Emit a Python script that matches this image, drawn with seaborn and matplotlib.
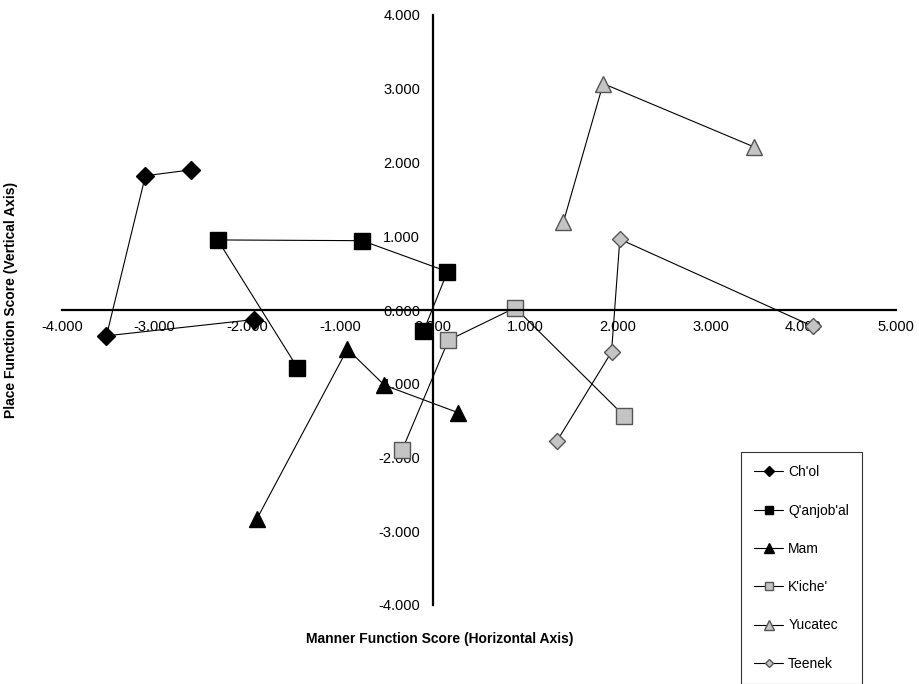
import pandas as pd
import matplotlib
matplotlib.use('Agg')
import matplotlib.pyplot as plt
import seaborn as sns

sns.set_style('white')
plt.rcParams['font.family'] = ['Liberation Sans', 'DejaVu Sans']
plt.rcParams['text.color'] = 'black'
plt.rcParams['axes.labelcolor'] = 'black'

# values (manner score, place score), in line order
chol_x = [-1.93, -3.52, -3.10, -2.61]
chol_y = [-0.13, -0.35, 1.82, 1.90]
qanjobal_x = [-1.46, -2.32, -0.76, 0.16, -0.10]
qanjobal_y = [-0.78, 0.95, 0.94, 0.52, -0.29]
mam_x = [-1.90, -0.92, -0.52, 0.27]
mam_y = [-2.84, -0.53, -1.02, -1.39]
kiche_x = [-0.33, 0.17, 0.89, 2.07]
kiche_y = [-1.90, -0.41, 0.03, -1.44]
yucatec_x = [1.41, 1.84, 3.47]
yucatec_y = [1.19, 3.07, 2.21]
teenek_x = [1.34, 1.93, 2.02, 4.10]
teenek_y = [-1.78, -0.57, 0.96, -0.22]

names = ["Ch'ol", "Q'anjob'al", "Mam", "K'iche'", "Yucatec", "Teenek"]
xs = [chol_x, qanjobal_x, mam_x, kiche_x, yucatec_x, teenek_x]
ys = [chol_y, qanjobal_y, mam_y, kiche_y, yucatec_y, teenek_y]

styles = {
    "Ch'ol": dict(marker='D', markersize=9, markerfacecolor='black', markeredgecolor='black'),
    "Q'anjob'al": dict(marker='s', markersize=11, markerfacecolor='black', markeredgecolor='black'),
    "Mam": dict(marker='^', markersize=12, markerfacecolor='black', markeredgecolor='black'),
    "K'iche'": dict(marker='s', markersize=11, markerfacecolor='#c4c4c4', markeredgecolor='#555555'),
    "Yucatec": dict(marker='^', markersize=12, markerfacecolor='#c4c4c4', markeredgecolor='#555555'),
    "Teenek": dict(marker='D', markersize=8, markerfacecolor='#c4c4c4', markeredgecolor='#555555'),
}

fig = plt.figure(figsize=(9.19, 6.84), dpi=100)
ax = fig.add_axes([62 / 919, 1 - 605 / 684, 834 / 919, 590 / 684])

for name, x, y in zip(names, xs, ys):
    df = pd.DataFrame({'x': x, 'y': y})
    sns.lineplot(data=df, x='x', y='y', sort=False, estimator=None, ax=ax,
                 color='black', linewidth=0.8, markeredgewidth=1.0,
                 label=name, **styles[name])

ax.set_xlim(-4, 5)
ax.set_ylim(-4, 4)
ax.set_xticks(range(-4, 6))
ax.set_yticks(range(-4, 5))
ax.set_xticklabels([f'{v:.3f}' for v in range(-4, 6)])
ax.set_yticklabels([f'{v:.3f}' for v in range(-4, 5)])

for side in ['top', 'right']:
    ax.spines[side].set_visible(False)
for side in ['left', 'bottom']:
    ax.spines[side].set_position(('data', 0))
    ax.spines[side].set_linewidth(1.6)
    ax.spines[side].set_color('black')
ax.tick_params(axis='both', direction='out', length=4, width=1.5, color='black',
               labelsize=10.5, labelcolor='black')
ax.tick_params(axis='x', pad=3)
ax.tick_params(axis='y', pad=5)

ax.set_xlabel('Manner Function Score (Horizontal Axis)', fontsize=10, fontweight='bold')
ax.set_ylabel('Place Function Score (Vertical Axis)', fontsize=10, fontweight='bold')
ax.xaxis.set_label_coords(0.453, -0.046)
ax.yaxis.set_label_coords(-0.053, 0.517)
ax.grid(False)

ax.get_legend().remove()
handles, labels = ax.get_legend_handles_labels()
leg = fig.legend(handles, labels, loc='upper left', bbox_to_anchor=(741 / 919, 1 - 452 / 684),
                 fontsize=10, frameon=True, fancybox=False, markerscale=0.55,
                 labelspacing=1.75, handlelength=2.1, handletextpad=0.35,
                 borderpad=0.95, borderaxespad=0, labelcolor='black')
leg.get_frame().set_edgecolor('black')
leg.get_frame().set_linewidth(0.8)

fig.savefig('out.png', dpi=100)
